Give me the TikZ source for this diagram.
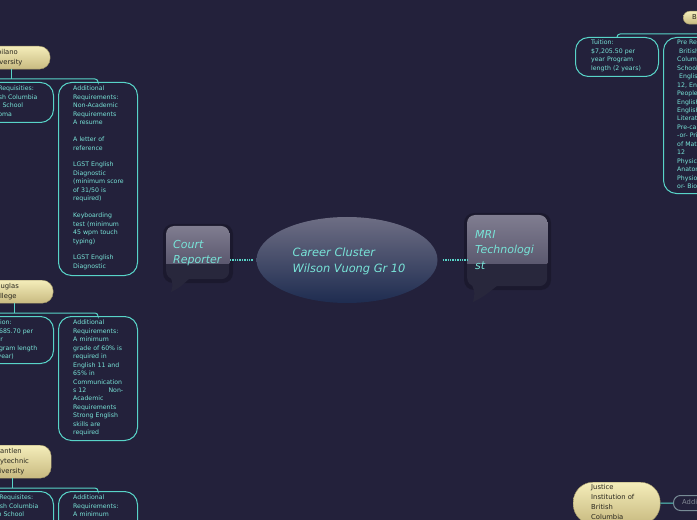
\documentclass[tikz,border=0pt]{standalone}
\usepackage{fontspec}
\setmainfont{DejaVu Sans}[ItalicFont={DejaVu Sans Oblique}]
\usetikzlibrary{shapes.geometric}
\definecolor{bgc}{RGB}{35,33,59}
\definecolor{cyl}{RGB}{88,212,200}
\definecolor{cyt}{RGB}{120,228,216}
\definecolor{pilltop}{RGB}{244,237,186}
\definecolor{pillbot}{RGB}{200,186,128}
\definecolor{pilltxt}{RGB}{40,38,30}
\definecolor{calltop}{RGB}{128,125,144}
\definecolor{callbot}{RGB}{74,72,96}
\definecolor{calldark}{RGB}{40,39,60}
\definecolor{elltop}{RGB}{110,110,132}
\definecolor{ellbot}{RGB}{30,44,80}
\definecolor{grayline}{RGB}{120,140,150}
\definecolor{graytxt}{RGB}{130,136,148}
\begin{document}
\begin{tikzpicture}[x=1bp,y=-1bp,
  cybox/.style={draw=cyl, line width=1bp, rounded corners=13bp, anchor=north west, inner sep=0pt},
  boxtext/.style={anchor=north west, inner sep=0pt, align=left, text width=#1, font=\fontsize{6.2bp}{8.45bp}\selectfont, text=cyt},
  boxtext/.default=62bp,
  pillbox/.style={rounded corners=11bp, top color=pilltop, bottom color=pillbot, draw=pillbot!80!black, line width=0.4bp, anchor=north west, inner sep=0pt},
  pilltext/.style={anchor=west, inner sep=0pt, align=left, font=\fontsize{6.8bp}{9.7bp}\selectfont, text=pilltxt},
  link/.style={draw=cyl, line width=1bp},
  dotlink/.style={draw=cyl, line width=1.6bp, dash pattern=on 1.4bp off 1bp},
  callbox/.style={fill=calldark, rounded corners=8bp, anchor=north west, inner sep=0pt},
  calltext/.style={anchor=north west, inner sep=0pt, align=left, font=\fontsize{11bp}{15.5bp}\selectfont\itshape, text=cyt},
  shadowbox/.style={fill=black, opacity=0.22, rounded corners=10bp}
]
\fill[bgc] (0,0) rectangle (697,520);
\useasboundingbox (0,0) rectangle (697,520);
\clip (0,0) rectangle (697,520);

% central topic
\node[ellipse, minimum width=181bp, minimum height=86bp, top color=elltop, bottom color=ellbot, inner sep=0pt] (center) at (347,260) {};
\node[align=left, inner sep=0pt, font=\fontsize{11.4bp}{16bp}\selectfont\itshape, text=cyt] (centertxt) at (349,261) {Career Cluster\\Wilson Vuong Gr 10};

% Court Reporter callout
\fill[shadowbox] (163,224) rectangle (233,283);
\fill[calldark] (171,278) .. controls (173,285) .. (171,292) .. controls (179,288) .. (190,278) -- cycle;
\node[callbox, minimum width=63bp, minimum height=53bp] (court) at (166,226) {};
\begin{scope}
  \clip (court.north west) rectangle ([yshift=16bp]court.south east);
  \fill[rounded corners=8bp, top color=calltop, bottom color=callbot] (court.north west) rectangle (court.south east);
\end{scope}
\node[calltext] (courttxt) at (173,240) {Court\\Reporter};

% MRI callout
\fill[shadowbox] (464,213) rectangle (551,290);
\fill[calldark] (472,285) .. controls (475,293) .. (473,302) .. controls (483,297) .. (498,285) -- cycle;
\node[callbox, minimum width=80bp, minimum height=71bp] (mri) at (467,215) {};
\begin{scope}
  \clip (mri.north west) rectangle ([yshift=23bp]mri.south east);
  \fill[rounded corners=8bp, top color=calltop, bottom color=callbot] (mri.north west) rectangle (mri.south east);
\end{scope}
\node[calltext] (mritxt) at (475,230) {MRI\\Technologi\\st};

\draw[dotlink, shorten <=3.5bp] (center.west) -- (center.west -| court.east);
\draw[dotlink, shorten <=5bp] (center.east) -- (center.east -| mri.west);

% Capilano University
\node[pillbox, minimum width=78bp, minimum height=23bp] (cap) at (-28,46) {};
\node[pilltext] (captxt) at (-12,57.5) {Capilano\\University};
\node[cybox, minimum width=81bp, minimum height=40bp] (capL) at (-28,82) {};
\node[cybox, minimum width=79bp, minimum height=193bp] (capR) at (58,82) {};
\node[boxtext] (capLt) at (-14,86) {Pre-Requisities:\\British Columbia\\High School\\Diploma};
\node[boxtext=52bp] (capRt) at (73,86) {Additional\\Requirements:\\Non-Academic\\Requirements\\A resume\\[8.45bp]A letter of\\reference\\[8.45bp]LGST English\\Diagnostic\\(minimum score\\of 31/50 is\\required)\\[8.45bp]Keyboarding\\test (minimum\\45 wpm touch\\typing)\\[8.45bp]LGST English\\Diagnostic};
\draw[link] (cap.south) -- ([yshift=3bp]cap.south |- capR.north);
\draw[link, rounded corners=3bp] ([xshift=20bp]capL.north west) -- ++(0,-3) -| (capR.north);

% Douglas College
\node[pillbox, minimum width=78bp, minimum height=23bp] (dou) at (-25,280) {};
\node[pilltext] (doutxt) at (-9,291.5) {Douglas\\College};
\node[cybox, minimum width=80bp, minimum height=47bp] (douL) at (-27,316) {};
\node[cybox, minimum width=79bp, minimum height=124bp] (douR) at (58,316) {};
\node[boxtext] (douLt) at (-11,320) {Tuition:\\\$5,685.70 per\\year\\Program length\\(1 year)};
\node[boxtext=50bp] (douRt) at (73,320) {Additional\\Requirements:\\A minimum\\grade of 60\% is\\required in\\English 11 and\\65\% in\\Communication\\s 12\hfill Non-\\Academic\\Requirements\\Strong English\\skills are\\required};
\draw[link] (dou.south) -- ([yshift=3bp]dou.south |- douR.north);
\draw[link, rounded corners=3bp] ([xshift=20bp]douL.north west) -- ++(0,-3) -| (douR.north);

% Kwantlen Polytechnic University
\node[pillbox, minimum width=77bp, minimum height=33bp] (kwa) at (-26,445) {};
\node[pilltext] (kwatxt) at (-10,461.5) {Kwantlen\\Polytechnic\\University};
\node[cybox, minimum width=81bp, minimum height=100bp] (kwaL) at (-28,491) {};
\node[cybox, minimum width=79bp, minimum height=100bp] (kwaR) at (58,491) {};
\node[boxtext] (kwaLt) at (-13,495) {Pre-Requisites:\\British Columbia\\High School\\Diploma};
\node[boxtext=52bp] (kwaRt) at (73,495) {Additional\\Requirements:\\A minimum};
\draw[link] (kwa.south) -- ([yshift=3bp]kwa.south |- kwaR.north);
\draw[link, rounded corners=3bp] ([xshift=20bp]kwaL.north west) -- ++(0,-3) -| (kwaR.north);

% BCIT
\node[pillbox, minimum width=60bp, minimum height=13bp, rounded corners=6.5bp] (bcit) at (683,11) {};
\node[pilltext] (bcittxt) at (692,17.5) {BCIT};
\node[cybox, minimum width=83bp, minimum height=39bp] (bL) at (575,37) {};
\node[cybox, minimum width=90bp, minimum height=156bp] (bR) at (663,37) {};
\node[boxtext] (bLt) at (591,40) {Tuition:\\\$7,205.50 per\\year Program\\length (2 years)};
\node[boxtext] (bRt) at (677,40) {Pre Requisites:\\\hspace*{2bp}British\\Columbia High\\School Diploma\\\hspace*{2bp}English\\12, English First\\Peoples 12,\\English 12 or\\English\\Literature 12\\Pre-calculus 12\\-or- Principles\\of Mathematics\\12\\Physics 11 or\\Anatomy \&\\Physiology 12 -\\or- Biology 12};
\draw[link, rounded corners=3bp] (bL.north) |- ([xshift=-20bp, yshift=3bp]bR.north east);
\draw[link] (bcit.south) -- ([yshift=3bp]bcit.south |- bR.north);

% Justice Institution of British Columbia
\node[pillbox, minimum width=87bp, minimum height=42bp, rounded corners=20bp] (jus) at (573,482) {};
\node[pilltext] (justxt) at (591,502) {Justice\\Institution of\\British\\Columbia};
\node[draw=grayline, line width=1bp, rounded corners=7bp, anchor=west, minimum width=60bp, minimum height=15bp, inner sep=0pt] (jusR) at (673,503) {};
\node[anchor=west, inner sep=0pt, font=\fontsize{6.8bp}{8bp}\selectfont, text=graytxt] (jusRt) at (682,503) {Additional Requirements};
\draw[link] (jus.east) -- (jusR.west);
\end{tikzpicture}
\end{document}
